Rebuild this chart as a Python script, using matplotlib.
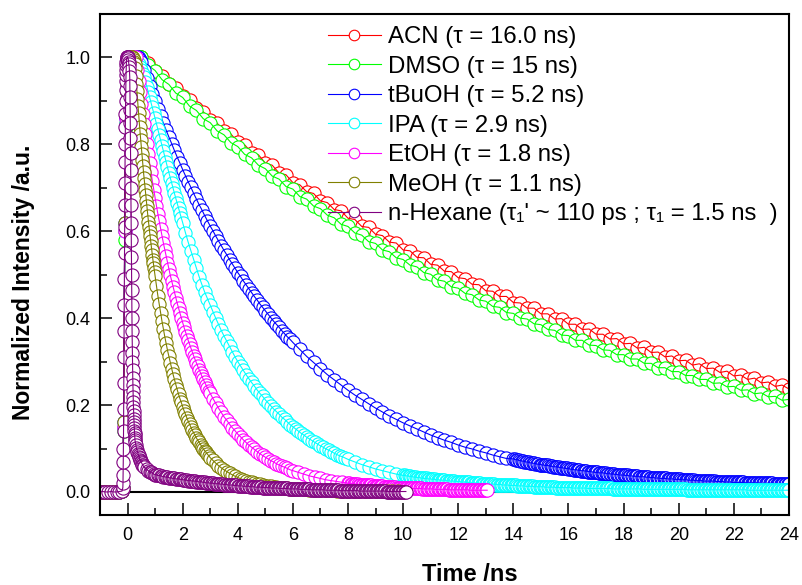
import numpy as np
import matplotlib
matplotlib.use('Agg')
import matplotlib.pyplot as plt
from matplotlib.ticker import MultipleLocator, FormatStrFormatter

plt.rcParams['font.family'] = ['Liberation Sans', 'DejaVu Sans']

labels = ['ACN (τ = 16.0 ns)', 'DMSO (τ = 15 ns)', 'tBuOH (τ = 5.2 ns)',
          'IPA (τ = 2.9 ns)', 'EtOH (τ = 1.8 ns)', 'MeOH (τ = 1.1 ns)',
          "n-Hexane (τ₁' ~ 110 ps ; τ₁ = 1.5 ns  )"]
colors = ['#ff0000', '#00ff00', '#0000ff', '#00ffff', '#ff00ff', '#808000', '#800080']

# every series is stored as segments: start time, channel step (ns), intensities
base_y = [0.0, 0.001, 0.0, 0.0, 0.001, 0.0, 0.0, 0.001, 0.002]   # t = -1.0 .. -0.2

acn_t0 = [-1.0, -0.18, 0.5]
acn_dt = [0.1, 0.04, 0.25]
acn_y = [base_y,
         [0.01, 0.15, 0.60, 0.85, 0.92, 0.95, 0.965, 0.975, 0.982, 0.988, 0.992, 0.995, 0.997, 0.999, 1.0, 1.0, 1.0],
         [1.000, 0.987, 0.968, 0.957, 0.939, 0.930, 0.911, 0.902, 0.883, 0.875, 0.856, 0.849,
          0.830, 0.824, 0.805, 0.799, 0.781, 0.776, 0.757, 0.752, 0.734, 0.730, 0.712, 0.707,
          0.691, 0.687, 0.670, 0.666, 0.650, 0.647, 0.630, 0.627, 0.611, 0.609, 0.593, 0.590,
          0.575, 0.573, 0.557, 0.555, 0.540, 0.539, 0.524, 0.522, 0.508, 0.507, 0.493, 0.491,
          0.478, 0.477, 0.463, 0.462, 0.450, 0.450, 0.436, 0.435, 0.423, 0.423, 0.410, 0.410,
          0.398, 0.399, 0.386, 0.386, 0.374, 0.375, 0.363, 0.363, 0.352, 0.353, 0.341, 0.342,
          0.331, 0.333, 0.321, 0.322, 0.311, 0.313, 0.302, 0.303, 0.292, 0.295, 0.284, 0.285,
          0.275, 0.278, 0.267, 0.269, 0.259, 0.262, 0.251, 0.253, 0.243, 0.246, 0.237]]

dmso_t0 = [-1.0, -0.18, 0.5]
dmso_dt = [0.1, 0.04, 0.25]
dmso_y = [base_y,
          [0.01, 0.14, 0.58, 0.84, 0.92, 0.95, 0.966, 0.976, 0.983, 0.989, 0.993, 0.996, 0.998, 0.999, 1.0, 1.0, 1.0],
          [1.000, 0.982, 0.970, 0.949, 0.938, 0.918, 0.908, 0.888, 0.878, 0.859, 0.850, 0.831,
           0.822, 0.804, 0.795, 0.777, 0.769, 0.752, 0.744, 0.727, 0.720, 0.703, 0.697, 0.680,
           0.674, 0.658, 0.652, 0.637, 0.631, 0.616, 0.611, 0.596, 0.591, 0.576, 0.572, 0.557,
           0.553, 0.539, 0.535, 0.522, 0.518, 0.505, 0.501, 0.488, 0.485, 0.472, 0.469, 0.457,
           0.454, 0.442, 0.439, 0.427, 0.425, 0.413, 0.411, 0.400, 0.398, 0.387, 0.385, 0.374,
           0.372, 0.361, 0.360, 0.349, 0.349, 0.338, 0.337, 0.327, 0.326, 0.316, 0.316, 0.306,
           0.306, 0.296, 0.296, 0.286, 0.286, 0.277, 0.277, 0.268, 0.268, 0.259, 0.259, 0.250,
           0.251, 0.242, 0.243, 0.234, 0.235, 0.226, 0.228, 0.219, 0.220, 0.211, 0.213]]

tbuoh_t0 = [-1.0, -0.18, 0.5, 6.25, 14.0]
tbuoh_dt = [0.1, 0.04, 0.1, 0.25, 0.05]
tbuoh_y = [base_y,
           [0.01, 0.16, 0.62, 0.86, 0.93, 0.955, 0.97, 0.98, 0.986, 0.99, 0.994, 0.997, 0.999, 1.0, 1.0, 0.998, 0.995],
           [0.990, 0.972, 0.953, 0.935, 0.917, 0.900, 0.882, 0.866, 0.849, 0.833, 0.817, 0.802,
            0.786, 0.771, 0.757, 0.742, 0.728, 0.714, 0.701, 0.687, 0.674, 0.661, 0.649, 0.636,
            0.624, 0.612, 0.601, 0.589, 0.578, 0.567, 0.556, 0.546, 0.535, 0.525, 0.515, 0.505,
            0.496, 0.486, 0.477, 0.468, 0.459, 0.450, 0.442, 0.433, 0.425, 0.417, 0.409, 0.401,
            0.393, 0.386, 0.379, 0.371, 0.364, 0.357, 0.351, 0.344],
           [0.328, 0.312, 0.298, 0.284, 0.270, 0.258, 0.246, 0.234, 0.223, 0.213, 0.203, 0.193,
            0.184, 0.175, 0.167, 0.159, 0.152, 0.145, 0.138, 0.131, 0.125, 0.119, 0.114, 0.108,
            0.103, 0.099, 0.094, 0.090, 0.085, 0.081, 0.077],
           [0.076, 0.075, 0.074, 0.074, 0.073, 0.072, 0.071, 0.071, 0.070, 0.069, 0.069, 0.068,
            0.067, 0.067, 0.066, 0.066, 0.065, 0.064, 0.064, 0.063,
            0.063, 0.062, 0.062, 0.061, 0.061, 0.061, 0.060, 0.059, 0.059, 0.058, 0.058, 0.058,
            0.057, 0.057, 0.056, 0.056, 0.055, 0.055, 0.054, 0.054,
            0.053, 0.053, 0.052, 0.052, 0.051, 0.051, 0.051, 0.050, 0.050, 0.049, 0.049, 0.049,
            0.048, 0.048, 0.047, 0.047, 0.047, 0.046, 0.046, 0.045,
            0.045, 0.045, 0.044, 0.044, 0.044, 0.044, 0.043, 0.043, 0.042, 0.042, 0.042, 0.041,
            0.041, 0.041, 0.040, 0.040, 0.040, 0.039, 0.039, 0.039,
            0.039, 0.038, 0.038, 0.038, 0.037, 0.037, 0.037, 0.036, 0.036, 0.036, 0.036, 0.035,
            0.035, 0.035, 0.035, 0.035, 0.034, 0.034, 0.034, 0.033,
            0.033, 0.033, 0.033, 0.032, 0.032, 0.032, 0.032, 0.031, 0.031, 0.031, 0.031, 0.031,
            0.030, 0.030, 0.030, 0.030, 0.030, 0.029, 0.029, 0.029,
            0.029, 0.029, 0.028, 0.028, 0.028, 0.028, 0.028, 0.027, 0.027, 0.027, 0.027, 0.027,
            0.026, 0.026, 0.026, 0.026, 0.026, 0.026, 0.025, 0.025,
            0.025, 0.025, 0.025, 0.025, 0.025, 0.025, 0.025, 0.024, 0.024, 0.024, 0.024, 0.024,
            0.024, 0.023, 0.023, 0.023, 0.023, 0.023, 0.023, 0.022,
            0.022, 0.022, 0.022, 0.022, 0.022, 0.022, 0.022, 0.022, 0.021, 0.021, 0.021, 0.021,
            0.021, 0.021, 0.021, 0.021, 0.021, 0.021, 0.021, 0.020,
            0.020, 0.020, 0.020, 0.020, 0.020, 0.020, 0.020, 0.020, 0.020, 0.019, 0.019, 0.019,
            0.019, 0.019, 0.019, 0.019, 0.019, 0.019, 0.019, 0.018,
            0.018]]

ipa_t0 = [-1.0, -0.18, 0.2, 2.1, 8.25, 10.05]
ipa_dt = [0.1, 0.04, 0.05, 0.1, 0.25, 0.05]
ipa_y = [base_y,
         [0.01, 0.15, 0.60, 0.85, 0.93, 0.96, 0.98, 0.99, 1.0, 1.0],
         [1.000, 0.997, 0.994, 0.990, 0.985, 0.978, 0.971, 0.963, 0.955, 0.944, 0.933, 0.921,
          0.910, 0.897, 0.885, 0.872, 0.860, 0.847, 0.835, 0.822, 0.810, 0.797, 0.785, 0.772,
          0.760, 0.747, 0.735, 0.722, 0.710, 0.699, 0.687, 0.676, 0.665, 0.653, 0.642, 0.631,
          0.620],
         [0.597, 0.575, 0.555, 0.535, 0.515, 0.495, 0.477, 0.460, 0.445, 0.430, 0.415, 0.400,
          0.386, 0.372, 0.359, 0.347, 0.335, 0.323, 0.311, 0.300, 0.290, 0.280, 0.270, 0.261,
          0.252, 0.244, 0.235, 0.227, 0.220, 0.212, 0.205, 0.198, 0.191, 0.185, 0.179, 0.172,
          0.167, 0.161, 0.155, 0.150, 0.145, 0.140, 0.135, 0.131, 0.126, 0.122, 0.118, 0.114,
          0.110, 0.106, 0.103, 0.099, 0.096, 0.093, 0.089, 0.086, 0.083, 0.081, 0.078, 0.075],
         [0.069, 0.063, 0.058, 0.053, 0.049, 0.045, 0.041, 0.038],
         [0.038, 0.037, 0.037, 0.036, 0.036, 0.035, 0.035, 0.034, 0.034, 0.033, 0.033, 0.033,
          0.032, 0.032, 0.031, 0.031, 0.031, 0.030, 0.030,
          0.030, 0.029, 0.029, 0.029, 0.028, 0.028, 0.028, 0.027, 0.027, 0.027, 0.027, 0.026,
          0.026, 0.026, 0.025, 0.025, 0.025, 0.025, 0.024, 0.024,
          0.024, 0.024, 0.023, 0.023, 0.023, 0.023, 0.022, 0.022, 0.022, 0.021, 0.021, 0.021,
          0.021, 0.020, 0.020, 0.020, 0.020, 0.019, 0.019, 0.019,
          0.019, 0.019, 0.018, 0.018, 0.018, 0.018, 0.018, 0.017, 0.017, 0.017, 0.017, 0.017,
          0.016, 0.016, 0.016, 0.016, 0.016, 0.015, 0.015, 0.015,
          0.015, 0.015, 0.015, 0.014, 0.014, 0.014, 0.014, 0.014, 0.014, 0.013, 0.013, 0.013,
          0.013, 0.013, 0.013, 0.012, 0.012, 0.012, 0.012, 0.012,
          0.012, 0.012, 0.012, 0.011, 0.011, 0.011, 0.011, 0.011, 0.011, 0.011, 0.011, 0.010,
          0.010, 0.010, 0.010, 0.010, 0.010, 0.010, 0.010, 0.010,
          0.010, 0.010, 0.010, 0.009, 0.009, 0.009, 0.009, 0.009, 0.009, 0.009, 0.009, 0.009,
          0.009, 0.009, 0.008, 0.008, 0.008, 0.008, 0.008, 0.008,
          0.008, 0.008, 0.008, 0.008, 0.008, 0.008, 0.008, 0.008, 0.008, 0.008, 0.008, 0.008,
          0.007, 0.007, 0.007, 0.007, 0.007, 0.007, 0.007, 0.007,
          0.007, 0.007, 0.007, 0.007, 0.007, 0.007, 0.007, 0.007, 0.007, 0.007, 0.007, 0.007,
          0.007, 0.007, 0.006, 0.006, 0.006, 0.006, 0.006, 0.006,
          0.006, 0.006, 0.006, 0.006, 0.006, 0.006, 0.006, 0.006, 0.006, 0.006, 0.006, 0.006,
          0.006, 0.006, 0.006, 0.006, 0.006, 0.006, 0.006, 0.006,
          0.006, 0.006, 0.006, 0.006, 0.006, 0.006, 0.005, 0.005, 0.005, 0.005, 0.005, 0.005,
          0.005, 0.005, 0.005, 0.005, 0.005, 0.005, 0.005, 0.005,
          0.005, 0.005, 0.005, 0.005, 0.005, 0.005, 0.005, 0.005, 0.005, 0.005, 0.005, 0.005,
          0.005, 0.005, 0.005, 0.005, 0.005, 0.005, 0.005, 0.005,
          0.005, 0.005, 0.005, 0.005, 0.005, 0.005, 0.005, 0.005, 0.005, 0.005, 0.004, 0.004,
          0.004, 0.004, 0.004, 0.004, 0.004, 0.004, 0.004, 0.004,
          0.004, 0.004, 0.004, 0.004, 0.004, 0.004, 0.004, 0.004, 0.004, 0.004, 0.004, 0.004,
          0.004, 0.004, 0.004, 0.004, 0.004, 0.004, 0.004, 0.004,
          0.004]]

etoh_t0 = [-1.0, -0.18, 0.2, 3.1, 6.2, 8.05]
etoh_dt = [0.1, 0.04, 0.05, 0.1, 0.2, 0.05]
etoh_y = [base_y,
          [0.01, 0.15, 0.60, 0.86, 0.93, 0.96, 0.98, 0.99, 1.0, 1.0],
          [1.000, 1.000, 1.000, 0.972, 0.946, 0.920, 0.894, 0.870, 0.846, 0.823, 0.800, 0.778,
           0.757, 0.736, 0.716, 0.696, 0.677, 0.658, 0.640, 0.623, 0.606, 0.589, 0.573, 0.558,
           0.542, 0.528, 0.513, 0.499, 0.486, 0.472, 0.460, 0.447, 0.435, 0.423, 0.412, 0.401,
           0.390, 0.379, 0.369, 0.359, 0.349, 0.340, 0.331, 0.322, 0.313, 0.305, 0.297, 0.289,
           0.281, 0.274, 0.266, 0.259, 0.252, 0.246, 0.239, 0.233, 0.227],
          [0.215, 0.204, 0.193, 0.183, 0.173, 0.165, 0.156, 0.148, 0.141, 0.133, 0.127, 0.120,
           0.114, 0.108, 0.103, 0.098, 0.093, 0.088, 0.084, 0.080, 0.076, 0.072, 0.069, 0.065,
           0.062, 0.059, 0.057, 0.054, 0.051, 0.049],
          [0.045, 0.041, 0.037, 0.034, 0.031, 0.028, 0.026, 0.024, 0.022, 0.020],
          [0.020, 0.019, 0.019, 0.019, 0.018, 0.018, 0.018, 0.017, 0.017, 0.017, 0.016, 0.016,
           0.016, 0.015, 0.015, 0.015, 0.015, 0.014, 0.014,
           0.014, 0.014, 0.013, 0.013, 0.013, 0.013, 0.012, 0.012, 0.012, 0.012, 0.011, 0.011,
           0.011, 0.011, 0.011, 0.010, 0.010, 0.010, 0.010, 0.010,
           0.010, 0.009, 0.009, 0.009, 0.009, 0.009, 0.009, 0.008, 0.008, 0.008, 0.008, 0.008,
           0.008, 0.008, 0.007, 0.007, 0.007, 0.007, 0.007, 0.007,
           0.007, 0.007, 0.007, 0.006, 0.006, 0.006, 0.006, 0.006, 0.006, 0.006, 0.006, 0.006,
           0.006, 0.005, 0.005, 0.005, 0.005, 0.005, 0.005, 0.005,
           0.005, 0.005, 0.005, 0.005, 0.005, 0.005, 0.005, 0.005, 0.004, 0.004, 0.004, 0.004,
           0.004, 0.004, 0.004, 0.004, 0.004, 0.004, 0.004, 0.004,
           0.004, 0.004]]

meoh_t0 = [-1.0, -0.18, 0.1, 1.05, 3.1, 6.2]
meoh_dt = [0.1, 0.04, 0.02, 0.05, 0.1, 0.2]
meoh_y = [base_y,
          [0.01, 0.16, 0.62, 0.87, 0.94, 0.97, 0.985],
          [0.995, 0.998, 1.000, 1.000, 1.000, 0.998, 0.995, 0.990, 0.985, 0.976, 0.958, 0.940,
           0.923, 0.905, 0.889, 0.872, 0.856, 0.840, 0.824, 0.809, 0.794, 0.779, 0.765, 0.750,
           0.736, 0.723, 0.709, 0.696, 0.683, 0.670, 0.658, 0.646, 0.634, 0.622, 0.610, 0.599,
           0.588, 0.577, 0.566, 0.556, 0.546, 0.535, 0.526, 0.516, 0.506, 0.497],
          [0.474, 0.452, 0.432, 0.412, 0.393, 0.375, 0.358, 0.342, 0.326, 0.312, 0.297, 0.284,
           0.271, 0.259, 0.247, 0.236, 0.225, 0.215, 0.206, 0.196, 0.187, 0.179, 0.171, 0.163,
           0.156, 0.149, 0.142, 0.136, 0.130, 0.124, 0.119, 0.114, 0.109, 0.104, 0.099, 0.095,
           0.091, 0.087, 0.083, 0.079],
          [0.0725, 0.0664, 0.0607, 0.0556, 0.0510, 0.0468, 0.0429, 0.0394, 0.0361, 0.0332,
           0.0305, 0.0281, 0.0259, 0.0238, 0.0220, 0.0203, 0.0187, 0.0173, 0.0160, 0.0148,
           0.0137, 0.0127, 0.0118, 0.0110, 0.0102, 0.0095, 0.0089, 0.0083, 0.0078, 0.0073],
          [0.0065, 0.0058, 0.0052, 0.0047, 0.0042, 0.0038, 0.0034, 0.0031, 0.0028, 0.0025,
           0.0023, 0.0021, 0.0019, 0.0017, 0.0016, 0.0014, 0.0013, 0.0012, 0.0011, 0.0010]]

hex_t0 = [-1.0, -0.17, -0.02, 0.08, 0.28, 0.7]
hex_dt = [0.1, 0.005, 0.01, 0.005, 0.02, 0.05]
hex_y = [base_y,
         [0.01, 0.02, 0.04, 0.07, 0.10, 0.14, 0.19, 0.25, 0.31, 0.37, 0.43, 0.49, 0.55, 0.61,
          0.66, 0.71, 0.76, 0.80, 0.84, 0.87, 0.90, 0.925, 0.945, 0.96, 0.972, 0.982, 0.99,
          0.995, 0.998],
         [1.0, 1.0, 1.0, 1.0, 0.998, 0.995, 0.99, 0.985, 0.978, 0.97],
         [0.955, 0.935, 0.91, 0.88, 0.85, 0.815, 0.78, 0.74, 0.70, 0.66, 0.62, 0.58, 0.54, 0.50,
          0.465, 0.43, 0.40, 0.37, 0.345, 0.32, 0.30, 0.28, 0.262, 0.246, 0.232, 0.219, 0.207,
          0.196, 0.186, 0.177, 0.169, 0.161, 0.154, 0.147, 0.141, 0.135, 0.13, 0.125, 0.12],
         [0.115, 0.108, 0.102, 0.097, 0.092, 0.088, 0.084, 0.080, 0.077, 0.074, 0.071, 0.068,
          0.066, 0.063, 0.061, 0.059, 0.057],
         [0.052, 0.049, 0.047, 0.045, 0.043, 0.041,
          0.040, 0.039, 0.038, 0.038, 0.037, 0.036, 0.035, 0.035, 0.034, 0.034, 0.033, 0.032,
          0.032, 0.031, 0.031, 0.030, 0.030, 0.030, 0.029, 0.029,
          0.028, 0.028, 0.027, 0.027, 0.026, 0.026, 0.026, 0.025, 0.025, 0.025, 0.024, 0.024,
          0.023, 0.023, 0.023, 0.022, 0.022, 0.021, 0.021, 0.021,
          0.020, 0.020, 0.020, 0.019, 0.019, 0.019, 0.019, 0.018, 0.018, 0.018, 0.017, 0.017,
          0.017, 0.016, 0.016, 0.016, 0.016, 0.015, 0.015, 0.015,
          0.014, 0.014, 0.014, 0.014, 0.013, 0.013, 0.013, 0.013, 0.013, 0.012, 0.012, 0.012,
          0.012, 0.011, 0.011, 0.011, 0.011, 0.011, 0.010, 0.010,
          0.010, 0.010, 0.010, 0.010, 0.009, 0.009, 0.009, 0.009, 0.009, 0.009, 0.008, 0.008,
          0.008, 0.008, 0.008, 0.008, 0.008, 0.007, 0.007, 0.007,
          0.007, 0.007, 0.007, 0.007, 0.007, 0.006, 0.006, 0.006, 0.006, 0.006, 0.006, 0.006,
          0.006, 0.005, 0.005, 0.005, 0.005, 0.005, 0.005, 0.005,
          0.005, 0.005, 0.005, 0.005, 0.004, 0.004, 0.004, 0.004, 0.004, 0.004, 0.004, 0.004,
          0.004, 0.004, 0.003, 0.003, 0.003, 0.003, 0.003, 0.003,
          0.003, 0.003, 0.003, 0.003, 0.003, 0.003, 0.003, 0.003, 0.002, 0.002, 0.002, 0.002,
          0.002, 0.002, 0.002, 0.002, 0.002, 0.002, 0.002, 0.002,
          0.002, 0.002, 0.002, 0.002, 0.002, 0.002, 0.002, 0.002, 0.001, 0.001, 0.001, 0.001,
          0.001, 0.001, 0.001, 0.001, 0.001, 0.001, 0.001, 0.001,
          0.001, 0.001, 0.001]]


def build(t0s, dts, segs):
    t = np.concatenate([s + d * np.arange(len(v)) for s, d, v in zip(t0s, dts, segs)])
    y = np.concatenate([np.array(v, dtype=float) for v in segs])
    return t, y


series = [(acn_t0, acn_dt, acn_y), (dmso_t0, dmso_dt, dmso_y), (tbuoh_t0, tbuoh_dt, tbuoh_y),
          (ipa_t0, ipa_dt, ipa_y), (etoh_t0, etoh_dt, etoh_y), (meoh_t0, meoh_dt, meoh_y),
          (hex_t0, hex_dt, hex_y)]

fig = plt.figure(figsize=(8.03, 5.85), dpi=100)
ax = fig.add_axes([0.1245, 0.1197, 0.858, 0.8563])

ax.hlines(0, 0, 24, colors='k', linewidth=1.5, zorder=1)

for (t0s, dts, segs), lab, c in zip(series, labels, colors):
    t, y = build(t0s, dts, segs)
    # white-filled symbols, connecting line drawn over them
    ax.plot(t, y, '-o', color=c, mfc='white', mec=c, ms=9.5, mew=0.8, lw=0.8,
            label=lab, zorder=2)
    ax.plot(t, y, '-', color=c, lw=0.8, zorder=2)

ax.set_xlim(-1, 24)
ax.set_ylim(-0.053, 1.10)
ax.xaxis.set_major_locator(MultipleLocator(2))
ax.xaxis.set_minor_locator(MultipleLocator(1))
ax.yaxis.set_major_locator(MultipleLocator(0.2))
ax.yaxis.set_minor_locator(MultipleLocator(0.1))
ax.yaxis.set_major_formatter(FormatStrFormatter('%.1f'))
ax.tick_params(which='major', direction='in', length=8.4, width=1.1, labelsize=13, pad=7)
ax.tick_params(axis='x', which='major', pad=9)
ax.tick_params(which='minor', direction='in', length=4.8, width=1.1)
for sp in ax.spines.values():
    sp.set_linewidth(1.5)

ax.set_xlabel('Time /ns', fontsize=17, fontweight='bold')
ax.set_ylabel('Normalized Intensity /a.u.', fontsize=16.5, fontweight='bold')
ax.xaxis.set_label_coords(0.537, -0.095)
ax.yaxis.set_label_coords(-0.095, 0.464)

ax.legend(loc='upper left', bbox_to_anchor=(328 / 803, 1 - 26 / 585),
          bbox_transform=fig.transFigure, frameon=False, fontsize=17.3,
          handlelength=2.2, handletextpad=0.3, labelspacing=0.315,
          borderpad=0, borderaxespad=0, numpoints=1, markerscale=0.8)

fig.savefig('out.png', dpi=100)
